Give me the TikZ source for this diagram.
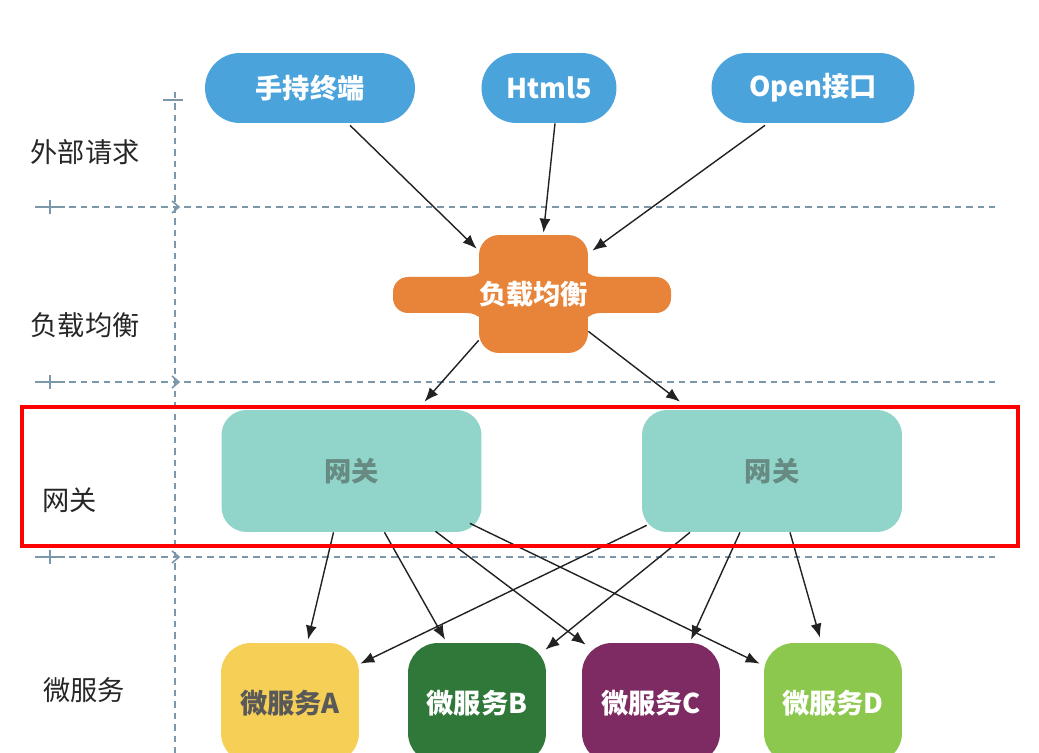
\documentclass[tikz,border=0pt]{standalone}
\usepackage{fontspec}
\setmainfont{Noto Sans CJK SC}
\usepackage{tikz}
\usetikzlibrary{arrows.meta,calc}
\usepackage{xcolor}
\definecolor{PillBlue}{HTML}{4BA3DC}
\definecolor{LbOrange}{HTML}{E8843A}
\definecolor{GateTeal}{HTML}{91D5CA}
\definecolor{GateText}{HTML}{678A83}
\definecolor{SvcYellow}{HTML}{F6CF57}
\definecolor{SvcDarkGreen}{HTML}{30783A}
\definecolor{SvcPurple}{HTML}{7E2B63}
\definecolor{SvcLightGreen}{HTML}{8DC84E}
\definecolor{GridBlue}{HTML}{7C97AA}
\definecolor{LineBlack}{HTML}{222222}
\definecolor{HighlightRed}{HTML}{FF0000}
\tikzset{
    % Base node style
    basenode/.style={
        inner sep=0pt,
        align=center,
        text=white,
        font=\bfseries\fontsize{15.5}{18}\selectfont
    },
    % Request pills (top row)
    pillnode/.style={
        basenode,
        fill=PillBlue,
        minimum height=1.4cm,
        rounded corners=0.7cm
    },
    % Load balancer centre
    lbnode/.style={
        basenode,
        fill=LbOrange,
        minimum width=1.86cm,
        minimum height=2.36cm,
        rounded corners=0.4cm
    },
    % Gateway box
    gatenode/.style={
        basenode,
        fill=GateTeal,
        text=GateText,
        minimum width=5.2cm,
        minimum height=2.44cm,
        rounded corners=0.5cm
    },
    % Micro service box
    svcnode/.style={
        basenode,
        minimum width=2.76cm,
        minimum height=2.4cm,
        rounded corners=0.6cm
    },
    % Layer label on the left
    sidelabel/.style={
        text=black!85,
        font=\fontsize{15.5}{18}\selectfont
    },
    % Arrow style
    myarrow/.style={
        -{Latex[length=2.8mm,width=2.2mm]},
        line width=0.8pt,
        draw=LineBlack
    },
    % Dashed layer lines
    gridline/.style={
        draw=GridBlue,
        line width=0.9pt,
        dash pattern=on 0.13cm off 0.1cm
    },
    gridtick/.style={
        draw=GridBlue,
        line width=0.9pt
    }
}
\begin{document}
\begin{tikzpicture}[x=0.02cm, y=-0.02cm]
        \clip (0,0) rectangle (1039,753);
        \fill[white] (0,0) rectangle (1039,753);

        % Layer grid
        \draw[gridline] (175,92) -- (175,753);
        \draw[gridtick] (163,100) -- (183,100);
        \foreach \y in {207,382,557} {
            \draw[gridline] (35,\y) -- (995,\y);
            \draw[gridtick] (35,\y) -- (65,\y);
            \draw[gridtick] (50,\y-7) -- (50,\y+7);
            \draw[gridtick] (172,\y-6) -- (179,\y) -- (172,\y+6);
        }

        % Layer labels
        \node[sidelabel] (l1) at (85,152) {外部请求};
        \node[sidelabel] (l2) at (85,325) {负载均衡};
        \node[sidelabel] (l3) at (70,500) {网关};
        \node[sidelabel] (l4) at (84,690) {微服务};

        % External requests
        \node[pillnode, minimum width=4.2cm] (p1) at (310,88) {手持终端};
        \node[pillnode, minimum width=2.7cm] (p2) at (549,88) {Html5};
        \node[pillnode, minimum width=4.06cm] (p3) at (813,88) {Open接口};

        % Load balancer
        \fill[LbOrange, rounded corners=0.3cm] (393,277) rectangle (671,313);
        \foreach \cx/\cy/\dx/\dy in {487/277/-1/-1, 580/277/1/-1, 487/313/-1/1, 580/313/1/1}
            \fill[LbOrange] (\cx+\dx*20,\cy) -- (\cx,\cy) -- (\cx,\cy+\dy*20)
                .. controls (\cx,\cy+\dy*9) and (\cx+\dx*9,\cy) .. cycle;
        \node[lbnode] (lb) at (533.5,294) {负载均衡};

        % Gateways
        \node[gatenode] (gl) at (351.5,471) {网关};
        \node[gatenode] (gr) at (772,471) {网关};

        % Micro services
        \node[svcnode, fill=SvcYellow, text=black!65] (sa) at (290,703) {微服务A};
        \node[svcnode, fill=SvcDarkGreen] (sb) at (477,703) {微服务B};
        \node[svcnode, fill=SvcPurple] (sc) at (651,703) {微服务C};
        \node[svcnode, fill=SvcLightGreen] (sd) at (833,703) {微服务D};

        % Requests to load balancer
        \draw[myarrow] ($(p1.south)+(40,2)$) -- ($(lb.north west)+(-2,14)$);
        \draw[myarrow] ($(p2.south)+(6,0)$) -- ($(lb.north)+(10,-2)$);
        \draw[myarrow] ($(p3.south)+(-48,2)$) -- ($(lb.north east)+(4,16)$);

        % Load balancer to gateways
        \draw[myarrow] ($(lb.south west)+(0,-13)$) -- ($(gl.north)+(73,-8)$);
        \draw[myarrow] ($(lb.south east)+(0,-22)$) -- ($(gr.north)+(-92,-8)$);

        % Left gateway to services
        \draw[myarrow] ($(gl.south)+(-18,0)$) -- ($(sa.north)+(18,-3)$);
        \draw[myarrow] ($(gl.south)+(33,0)$) -- ($(sb.north)+(-32,-3)$);
        \draw[myarrow] ($(gl.south)+(84,-1)$) -- ($(sc.north west)+(4,2)$);
        \draw[myarrow] ($(gl.south east)+(-12,-9)$) -- ($(sd.north west)+(-4,21)$);

        % Right gateway to services
        \draw[myarrow] ($(gr.south west)+(5,-7)$) -- ($(sa.north east)+(1,21)$);
        \draw[myarrow] ($(gr.south)+(-82,0)$) -- ($(sb.north east)+(-1,7)$);
        \draw[myarrow] ($(gr.south)+(-32,0)$) -- ($(sc.north)+(40,-3)$);
        \draw[myarrow] ($(gr.south)+(18,0)$) -- ($(sd.north)+(-13,-5)$);

        % Highlight of the gateway layer
        \draw[HighlightRed, line width=2.8pt] (22,407) rectangle (1018,546);
    \end{tikzpicture}
\end{document}
